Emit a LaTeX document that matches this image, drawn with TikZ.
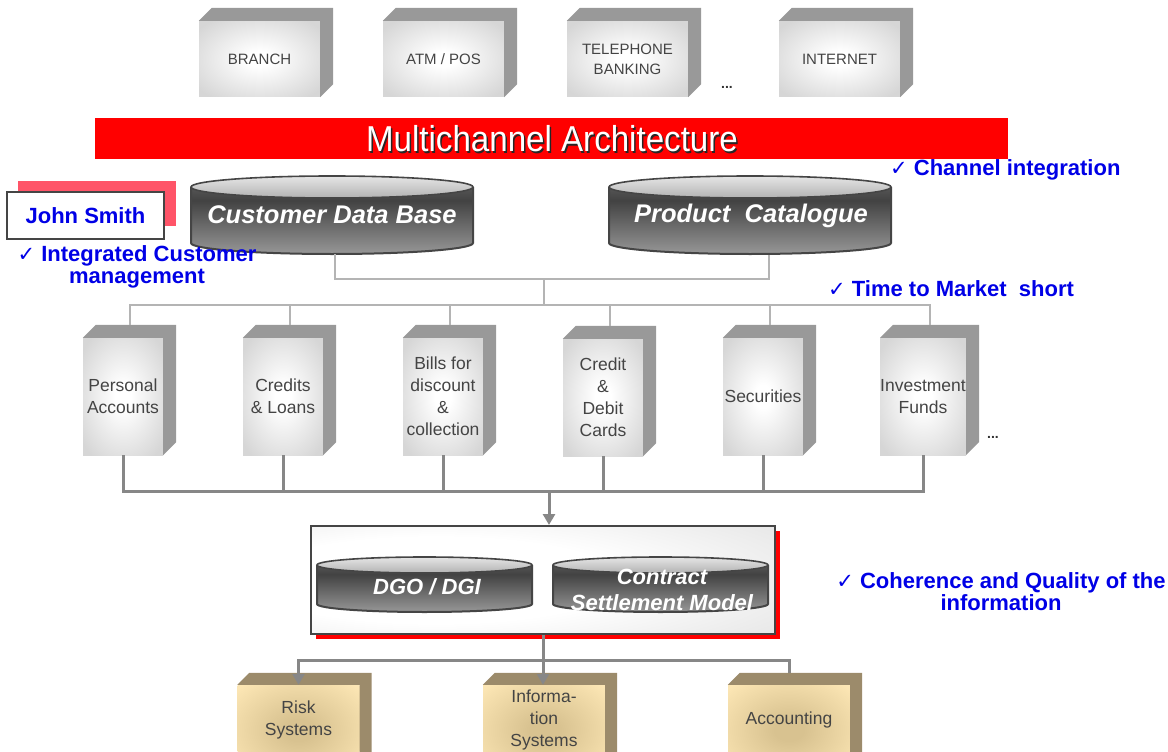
\documentclass[tikz,border=0pt]{standalone}
\usepackage{fontspec}
\setmainfont{Liberation Sans}
\newfontfamily\chkfont{DejaVu Sans}
\newfontfamily\narrowfont[FakeStretch=0.92]{Liberation Sans}
\usetikzlibrary{arrows.meta}

\definecolor{frontgray}{HTML}{D6D6D6}
\definecolor{sidegray}{HTML}{999999}
\definecolor{labelgray}{HTML}{444444}
\definecolor{thinline}{HTML}{B4B4B4}
\definecolor{busgray}{HTML}{878787}
\definecolor{navyblue}{HTML}{0000E6}
\definecolor{pinkred}{HTML}{FF5468}
\definecolor{tanin}{HTML}{D8C290}
\definecolor{tanout}{HTML}{FCE6B4}
\definecolor{tanside}{HTML}{9C8B6B}
\definecolor{rimgray}{HTML}{454545}

% check mark set before the blue remarks
\newcommand{\tickmark}{{\chkfont\fontsize{21}{22}\selectfont ✓}}

% soft glow on the block faces
\pgfdeclareradialshading{paleface}{\pgfpoint{0bp}{0bp}}{color(0bp)=(white); color(5bp)=(white); color(32bp)=(frontgray); color(72bp)=(frontgray)}
\pgfdeclareradialshading{tanface}{\pgfpoint{0bp}{0bp}}{color(0bp)=(tanin); color(6bp)=(tanin); color(34bp)=(tanout); color(72bp)=(tanout)}
\pgfdeclareradialshading{coreface}{\pgfpoint{-15bp}{0bp}}{color(0bp)=(white); color(20bp)=(white); color(60bp)=(black!17); color(90bp)=(black!22)}

% body of a database drum: light at the top rim, dark in the middle, light at the base
\pgfdeclareverticalshading{drumbody}{100bp}{color(0bp)=(black!18); color(30bp)=(black!45); color(65bp)=(black!74); color(100bp)=(black!48)}

% drum: x1, x2, top-ellipse centre y, bottom-ellipse centre y, x radius, y radius
\newcommand{\drum}[6]{%
  \shade[shading=drumbody] (#1,#3) -- (#1,#4)
    arc[start angle=180,end angle=360,x radius=#5pt,y radius=#6pt] -- (#2,#3)
    arc[start angle=0,end angle=-180,x radius=#5pt,y radius=#6pt] -- cycle;
  \draw[rimgray,line width=2pt] (#1,#3) -- (#1,#4)
    arc[start angle=180,end angle=360,x radius=#5pt,y radius=#6pt] -- (#2,#3);
  \shadedraw[draw=rimgray,line width=1.6pt,top color=black!10,bottom color=black!30]
    ({(#1+#2)/2},#3) ellipse[x radius=#5pt,y radius=#6pt];
}

% top and right faces of a block whose front face is node #1
\newcommand{\extrude}[3]{%
  \fill[#3] (#1.north west) -- ++(#2,#2) -- ([shift={(#2,#2)}]#1.north east)
    -- ([shift={(#2,#2)}]#1.south east) -- (#1.south east) -- (#1.north east) -- cycle;
}

\tikzset{
  front/.style={rectangle,inner sep=0pt,shading=paleface,text=labelgray,align=center},
  chanbox/.style={front,minimum width=121pt,minimum height=76pt,font=\fontsize{15}{20}\selectfont},
  prodbox/.style={front,minimum width=80pt,minimum height=117pt,font=\fontsize{17.5}{22}\selectfont},
  sysbox/.style={rectangle,inner sep=0pt,shading=tanface,minimum width=122pt,minimum height=90pt},
  systext/.style={text=labelgray,align=center,inner sep=0pt,font=\fontsize{17.5}{22}\selectfont},
  drumtext/.style={text=white,inner sep=0pt,align=center,font=\bfseries\itshape\fontsize{25.5}{28}\selectfont},
  smalldrumtext/.style={text=white,inner sep=0pt,align=center,font=\bfseries\itshape\fontsize{22}{26}\selectfont},
  bluelab/.style={text=navyblue,inner sep=0pt,font=\bfseries\fontsize{22}{22}\selectfont},
  dots/.style={text=black!80,inner sep=0pt,font=\bfseries\fontsize{14}{14}\selectfont},
  thinwire/.style={thinline,line width=2pt},
  buswire/.style={busgray,line width=3pt},
  busarrow/.style={buswire,-{Triangle[width=12pt,length=11pt]}},
}

\begin{document}
\begin{tikzpicture}[x=1pt,y=1pt]
\useasboundingbox (0,0) rectangle (1168,-752);

% ---------- delivery channels ----------
\node[chanbox] (branch) at (259.5,-59) {BRANCH};
\node[chanbox] (atm) at (443.5,-59) {ATM / POS};
\node[chanbox] (tel) at (627.5,-59) {TELEPHONE\\BANKING};
\node[chanbox] (web) at (839.5,-59) {INTERNET};
\foreach \n in {branch,atm,tel,web} {\extrude{\n}{13}{sidegray}}
\node[dots] (chdots) at (727,-87) {...};

% ---------- title bar ----------
\node[fill=red,inner sep=0pt,minimum width=913pt,minimum height=41pt] (bar) at (551.5,-138.5) {};
\node[text=black!85,font=\narrowfont\fontsize{36}{36}\selectfont,inner sep=0pt] (titleshadow) at (553.5,-140.5) {Multichannel Architecture};
\node[text=white,font=\narrowfont\fontsize{36}{36}\selectfont,inner sep=0pt] (title) at (552,-139) {Multichannel Architecture};

% ---------- customer card ----------
\fill[pinkred] (18,-181) rectangle (176,-226);
\node[fill=white,draw=rimgray,line width=1.5pt,minimum width=157pt,minimum height=47pt,inner sep=0pt,
  text=navyblue,font=\bfseries\fontsize{22}{22}\selectfont] (js) at (85.5,-215.5) {John Smith};

% ---------- central repositories ----------
\drum{191}{473}{-187}{-243}{141}{11}
\drum{609}{891}{-187}{-243}{141}{11}
\node[drumtext,minimum width=282pt,minimum height=78pt] (cdb) at (332,-215) {Customer Data Base};
\node[drumtext,minimum width=282pt,minimum height=78pt] (pc) at (751,-216) {Product\ \ Catalogue};

\node[bluelab,align=center] (icm) at (137,-267) {\tickmark\ Integrated Customer\\management};
\node[bluelab,anchor=west] (chint) at (890,-170) {\tickmark\ Channel integration};
\node[bluelab,anchor=west] (ttm) at (828,-289) {\tickmark\ Time to Market\ \ short};

% ---------- products ----------
\node[prodbox] (p1) at (123,-396.5) {Personal\\Accounts};
\node[prodbox] (p2) at (283,-396.5) {Credits\\\& Loans};
\node[prodbox] (p3) at (443,-396.5) {Bills for\\discount\\\&\\collection};
\node[prodbox] (p4) at (603,-397.5) {Credit\\\&\\Debit\\Cards};
\node[prodbox] (p5) at (763,-396.5) {Securities};
\node[prodbox] (p6) at (923,-396.5) {Investment\\Funds};
\foreach \n in {p1,p2,p3,p4,p5,p6} {\extrude{\n}{13}{sidegray}}
\node[dots] (pdots) at (993,-437) {...};

% repositories feed the products
\coordinate (hubA) at (544,-279);
\coordinate (hubB) at (544,-305);
\draw[thinwire] ([xshift=3pt]cdb.south) |- (hubA);
\draw[thinwire] ([xshift=18pt]pc.south) |- (hubA);
\draw[thinwire] (hubA) -- (hubB);
\foreach \n in {p1,p2,p3,p4,p5,p6}
  {\draw[thinwire] (hubB) -| ([xshift=6.5pt,yshift=13pt]\n.north);}

% products feed the integration layer
\coordinate (hubC) at (549,-491);
\foreach \n in {p1,p2,p3,p4,p5,p6}
  {\draw[buswire] (\n.south) |- (hubC);}

% ---------- integration layer ----------
\fill[red] (316,-531) rectangle (780,-639);
\node[draw=rimgray,line width=2pt,shading=coreface,
  minimum width=464pt,minimum height=108pt,inner sep=0pt] (core) at (543,-580) {};
\draw[busarrow] (hubC) -- (hubC |- core.north);

\drum{317}{532}{-565}{-604}{107.5}{8}
\drum{553}{768}{-565}{-604}{107.5}{8}
\node[smalldrumtext] (dgo) at (427,-587) {DGO / DGI};
\node[smalldrumtext] (csm) at (662,-590) {Contract\\Settlement Model};

\node[bluelab,align=center] (cqi) at (1001,-592) {\tickmark\ Coherence and Quality of the\\information};

% ---------- downstream systems ----------
\node[sysbox] (risk) at (298.5,-730) {};
\node[sysbox] (info) at (544,-730) {};
\node[sysbox] (acc) at (789,-730) {};
\foreach \n in {risk,info,acc} {\extrude{\n}{12}{tanside}}
\node[systext] (riskt) at (298.5,-720) {Risk\\Systems};
\node[systext] (infot) at (544,-720) {Informa-\\tion\\Systems};
\node[systext] (acct) at (789,-720) {Accounting};

\coordinate (hubD) at (543,-660);
\draw[buswire] (core.south) -- (hubD);
\draw[busarrow] (hubD) -| (risk.north);
\draw[busarrow] (hubD) -- (hubD |- info.north);
\draw[buswire] (hubD) -| ([yshift=12pt]acc.north);
\end{tikzpicture}
\end{document}
